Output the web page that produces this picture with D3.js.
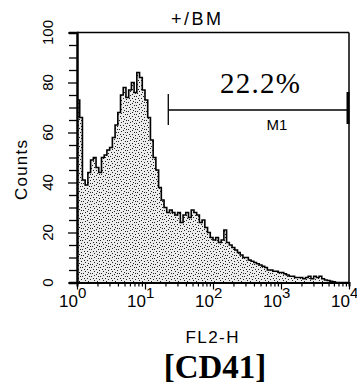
<!DOCTYPE html>
<html>
<head>
<meta charset="utf-8">
<script src="https://cdn.jsdelivr.net/npm/d3@7"></script>
<style>
  html, body { margin: 0; padding: 0; background: #fff; }
  svg { display: block; }
  text { font-family: "Liberation Sans", Arial, sans-serif; fill: #000; }
</style>
</head>
<body>
<svg id="chart" width="357" height="389"></svg>
<script>
// ---- data ----
const chartTitle = "+/BM";
const xLabel = "FL2-H";
const yLabel = "Counts";
const caption = "[CD41]";
const markerLabel = "M1";
const markerPercent = "22.2%";
const markerRange = [22, 10000];            // FL2-H channel values of M1 gate
const yTicks = [0, 20, 40, 60, 80, 100];
const yMinorStep = 5;
const xDecades = [0, 1, 2, 3, 4];           // exponents: 10^0 .. 10^4
const binLogWidth = 0.04;                   // 25 bins per decade
const counts = [
  73, 66, 41, 39, 44, 49, 50, 46, 44, 50,
  51, 53, 54, 58, 63, 68, 75, 78, 74, 77,
  80, 76, 84, 82, 77, 73, 66, 57, 50, 45,
  38, 33, 30, 28, 29, 28, 27, 28, 24, 27,
  28, 26, 29, 28, 27, 24, 25, 22, 20, 18,
  17, 18, 16, 17, 21, 16, 15, 14, 13, 12,
  11, 10, 10, 9, 8.5, 8, 7.5, 7, 6.5, 6,
  5, 5, 4.5, 4.5, 4, 4, 3.5, 3, 2.5, 2.5,
  2, 2, 2, 1.5, 2, 2.5, 1.5, 2.5, 2, 2.5,
  1.5, 1, 0.8, 0.5, 0.3, 0, 0, 0, 0, 0
];

// ---- layout ----
const svg = d3.select("#chart");
const m = { left: 77, right: 349, top: 32.5, bottom: 282.5 };
const narrow = "'Liberation Sans Narrow', 'Liberation Sans', Arial, sans-serif";
const serif = "'Liberation Serif', 'Times New Roman', serif";

const x = d3.scaleLog().domain([1, 10000]).range([m.left, m.right]);
const y = d3.scaleLinear().domain([0, 100]).range([m.bottom, m.top]);

// stipple pattern (fixed dot layout)
const defs = svg.append("defs");
const pat = defs.append("pattern").attr("id", "stip")
  .attr("patternUnits", "userSpaceOnUse").attr("width", 9).attr("height", 9);
pat.append("rect").attr("width", 9).attr("height", 9).attr("fill", "#ececec");
const dots = [[0,0],[4,1],[7,2],[2,3],[6,4],[1,6],[4,5],[8,6],[3,8],[6,8],[0,3]];
pat.selectAll("rect.d").data(dots).enter().append("rect").attr("class", "d")
  .attr("x", d => d[0]).attr("y", d => d[1]).attr("width", 1).attr("height", 1)
  .attr("fill", "#222");

// histogram
const pts = counts.map((c, i) => ({ v: Math.pow(10, i * binLogWidth), c }));
pts.push({ v: 10000, c: counts[counts.length - 1] });

const area = d3.area().curve(d3.curveStepAfter)
  .x(d => x(d.v)).y0(y(0)).y1(d => y(d.c));
const line = d3.line().curve(d3.curveStepAfter)
  .x(d => x(d.v)).y(d => y(d.c));

svg.append("path").datum(pts).attr("d", area).attr("fill", "url(#stip)");
svg.append("path").datum(pts).attr("d", line)
  .attr("fill", "none").attr("stroke", "#000").attr("stroke-width", 1.6);

// frame: top and right borders
svg.append("line").attr("x1", m.left).attr("x2", m.right).attr("y1", m.top).attr("y2", m.top)
  .attr("stroke", "#000").attr("stroke-width", 1.5);
svg.append("line").attr("x1", m.right).attr("x2", m.right).attr("y1", m.top).attr("y2", m.bottom)
  .attr("stroke", "#000").attr("stroke-width", 1.5);

// y axis
const yMinor = d3.range(0, 100 + 0.001, yMinorStep);
const yAxis = d3.axisLeft(y).tickValues(yMinor).tickSize(8).tickFormat("");
const gy = svg.append("g").attr("transform", `translate(${m.left},0)`).call(yAxis);
gy.select(".domain").attr("stroke-width", 2.5);
gy.selectAll(".tick line").attr("stroke-width", 1.3);
gy.selectAll(".tick").filter(d => yTicks.includes(d)).select("line").attr("x2", -9);

svg.append("g").selectAll("text").data(yTicks).enter().append("text")
  .attr("transform", d => `translate(53,${y(d)}) rotate(-90)`)
  .attr("text-anchor", "middle").style("font-family", narrow)
  .style("font-size", "15px").text(d => d);

svg.append("text").attr("transform", `translate(27,170) rotate(-90)`)
  .attr("text-anchor", "middle").style("font-family", narrow)
  .attr("textLength", 60).style("font-size", "17px").text(yLabel);

// x axis
const xMinor = [];
xDecades.slice(0, -1).forEach(e => { for (let k = 1; k <= 9; k++) xMinor.push(k * Math.pow(10, e)); });
xMinor.push(10000);
const xAxis = d3.axisBottom(x).tickValues(xMinor).tickSize(4).tickFormat("");
const gx = svg.append("g").attr("transform", `translate(0,${m.bottom})`).call(xAxis);
gx.select(".domain").attr("stroke-width", 2);
gx.selectAll(".tick line").attr("stroke-width", 1.2);
gx.selectAll(".tick").filter(d => Math.abs(Math.log10(d) - Math.round(Math.log10(d))) < 1e-9)
  .select("line").attr("y2", 7);

const xl = svg.append("g").selectAll("text").data(xDecades).enter().append("text")
  .attr("x", d => x(Math.pow(10, d)) - 18).attr("y", 307).style("font-size", "17px");
xl.append("tspan").text("10");
xl.append("tspan").attr("dy", -9).style("font-size", "15px").text(d => d);

svg.append("text").attr("x", 212).attr("y", 343).attr("text-anchor", "middle")
  .attr("textLength", 53).style("font-size", "17px").text(xLabel);

svg.append("text").attr("x", 215).attr("y", 378).attr("text-anchor", "middle")
  .style("font-family", serif)
  .style("font-weight", "bold").style("font-size", "33px").text(caption);

// title
svg.append("text").attr("x", 196).attr("y", 25).attr("text-anchor", "middle")
  .attr("textLength", 50).style("font-size", "18px").text(chartTitle);

// marker M1
const my = 110;
const mx1 = x(markerRange[0]), mx2 = x(markerRange[1]) - 1;
svg.append("line").attr("x1", mx1).attr("x2", mx2).attr("y1", my).attr("y2", my)
  .attr("stroke", "#000").attr("stroke-width", 1.5);
svg.append("line").attr("x1", mx1).attr("x2", mx1).attr("y1", 94).attr("y2", 125)
  .attr("stroke", "#000").attr("stroke-width", 1.3);
svg.append("line").attr("x1", mx2).attr("x2", mx2).attr("y1", 92).attr("y2", 124)
  .attr("stroke", "#000").attr("stroke-width", 3);
svg.append("text").attr("x", 277).attr("y", 130).attr("text-anchor", "middle")
  .style("font-size", "15px").text(markerLabel);
svg.append("text").attr("x", 260).attr("y", 93).attr("text-anchor", "middle")
  .attr("textLength", 80)
  .style("font-family", serif)
  .style("font-size", "29px").text(markerPercent);
</script>
</body>
</html>
